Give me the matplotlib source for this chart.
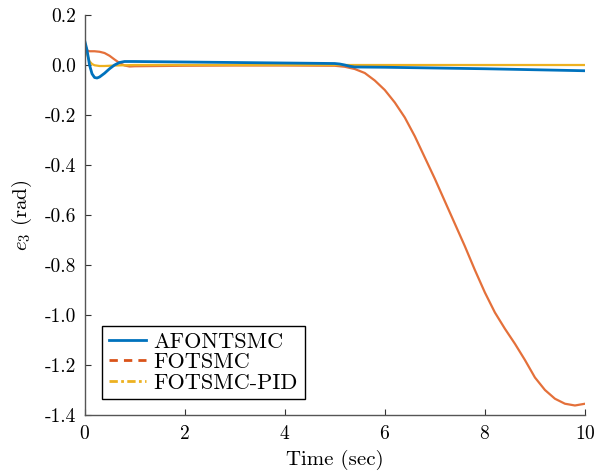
import matplotlib
matplotlib.use('Agg')
import matplotlib.pyplot as plt
from matplotlib.lines import Line2D
from matplotlib.ticker import FormatStrFormatter
import numpy as np

# fonts: LaTeX-like look
plt.rcParams['font.family'] = 'serif'
plt.rcParams['font.serif'] = ['cmr10', 'DejaVu Serif']
plt.rcParams['mathtext.fontset'] = 'cm'
plt.rcParams['axes.formatter.use_mathtext'] = True

# data
t_afontsmc = [0, 0.05, 0.1, 0.15, 0.2, 0.25, 0.3, 0.4, 0.5, 0.6, 0.7, 0.8, 1.0,
              2, 3, 4, 5.0, 5.1, 5.2, 5.3, 5.4, 6, 7, 8, 9, 10]
e3_afontsmc = [0.1, 0.06, 0.0, -0.035, -0.05, -0.052, -0.048, -0.033, -0.015, 0.0,
               0.01, 0.014, 0.014, 0.012, 0.01, 0.008, 0.006, 0.004, 0.0, -0.005,
               -0.008, -0.009, -0.012, -0.015, -0.019, -0.023]

t_fotsmc = [0, 0.05, 0.1, 0.2, 0.3, 0.4, 0.5, 0.6, 0.7, 0.8, 0.9, 1.0, 2, 3, 4, 5,
            5.2, 5.4, 5.6, 5.8, 6.0, 6.2, 6.4, 6.6, 6.8, 7.0, 7.2, 7.4, 7.6, 7.8,
            8.0, 8.2, 8.4, 8.6, 8.8, 9.0, 9.2, 9.4, 9.6, 9.8, 10]
e3_fotsmc = [0.09, 0.058, 0.055, 0.055, 0.053, 0.048, 0.037, 0.022, 0.008, -0.002,
             -0.006, -0.005, -0.003, -0.002, -0.002, -0.003, -0.007, -0.016, -0.032,
             -0.062, -0.1, -0.15, -0.21, -0.285, -0.37, -0.455, -0.545, -0.635, -0.725,
             -0.82, -0.91, -0.99, -1.055, -1.115, -1.18, -1.25, -1.3, -1.335, -1.355,
             -1.362, -1.355]

t_pid = [0, 0.05, 0.1, 0.15, 0.2, 0.3, 0.4, 0.6, 1, 10]
e3_pid = [0.1, 0.045, 0.015, 0.004, -0.001, -0.004, -0.004, -0.002, 0.0, 0.0]

labels = ['AFONTSMC', 'FOTSMC', 'FOTSMC-PID']
x_ticks = [0, 2, 4, 6, 8, 10]
y_ticks = [0.2, 0.0, -0.2, -0.4, -0.6, -0.8, -1.0, -1.2, -1.4]

c_blue = '#0072BD'
c_orange = '#D95319'
c_yellow = '#EDB120'

fig = plt.figure(figsize=(5.96, 4.72), dpi=100)
ax = fig.add_axes([0.1418, 0.1208, 0.8397, 0.8474])

ax.plot(t_fotsmc, e3_fotsmc, color='#E4703A', linewidth=1.6)
ax.plot(t_pid, e3_pid, color=c_yellow, linewidth=1.6)
ax.plot(t_afontsmc, e3_afontsmc, color=c_blue, linewidth=2.0)

ax.set_xlim(0, 10)
ax.set_ylim(-1.4, 0.2)
ax.set_xticks(x_ticks)
ax.set_yticks(y_ticks)
ax.yaxis.set_major_formatter(FormatStrFormatter('%.1f'))
ax.tick_params(direction='in', length=4, width=0.8, labelsize=14,
               colors='#333333', labelcolor='black')
ax.tick_params(axis='y', pad=6)
ax.tick_params(axis='x', pad=7)

for side in ['top', 'right']:
    ax.spines[side].set_visible(False)
for side in ['left', 'bottom']:
    ax.spines[side].set_color('#555555')
    ax.spines[side].set_linewidth(1.0)

ax.set_xlabel('Time (sec)', fontsize=15, labelpad=5)
ax.set_ylabel('$e_3$ (rad)', fontsize=15, labelpad=8)

handles = [
    Line2D([], [], color=c_blue, linewidth=2.0, linestyle='-'),
    Line2D([], [], color=c_orange, linewidth=2.0, linestyle=(0, (3, 2.2))),
    Line2D([], [], color=c_yellow, linewidth=2.0, linestyle=(0, (3, 1.2, 1, 1.2))),
]
leg = ax.legend(handles, labels, loc='lower left', bbox_to_anchor=(0.035, 0.039),
                borderaxespad=0, fontsize=16, fancybox=False, framealpha=1,
                edgecolor='black', handlelength=1.7, handletextpad=0.32,
                labelspacing=0.04, borderpad=0.3)
leg.get_frame().set_linewidth(1.0)

fig.savefig('out.png', dpi=100)
